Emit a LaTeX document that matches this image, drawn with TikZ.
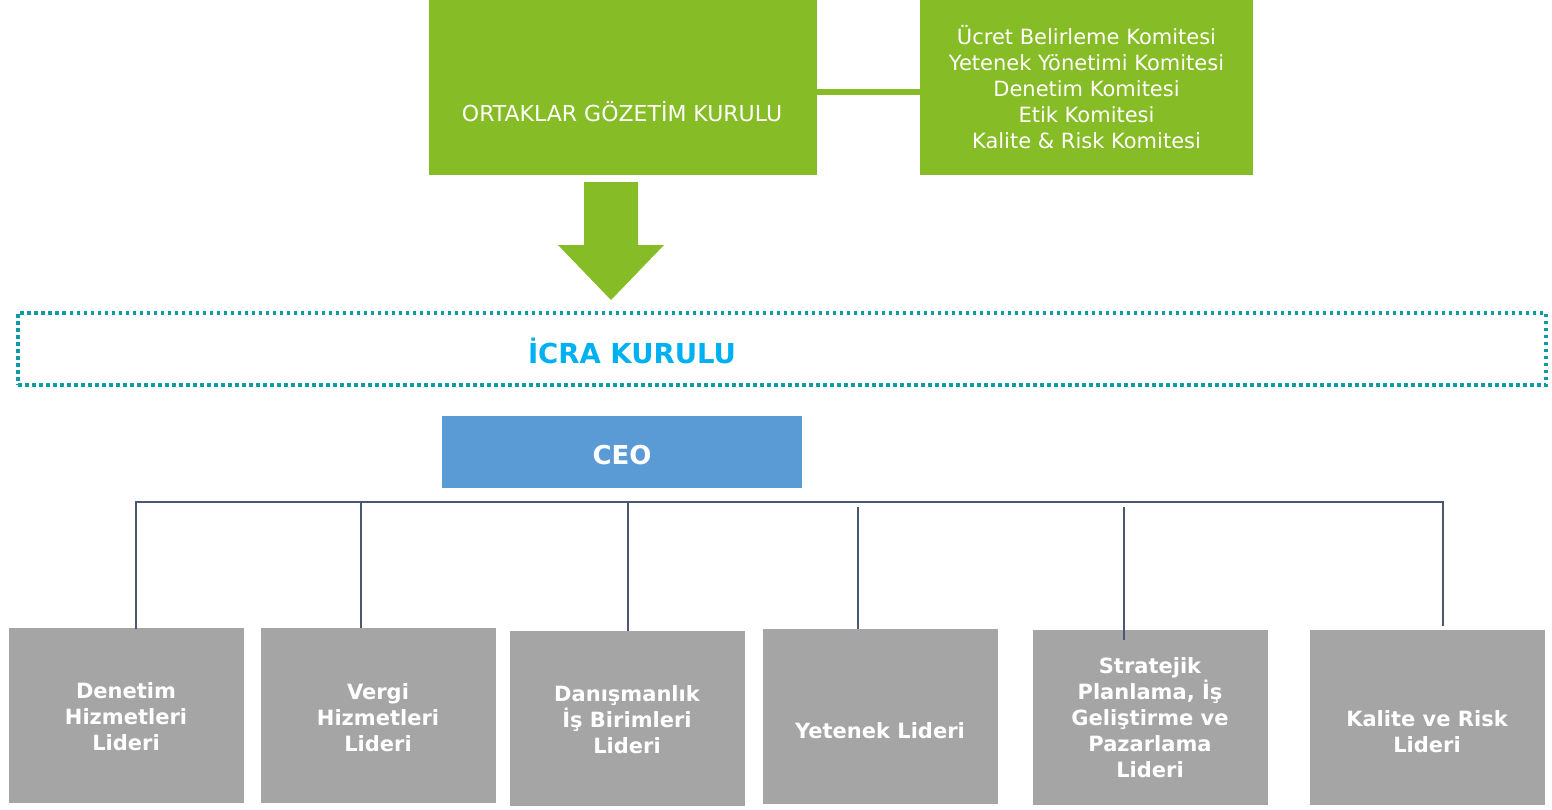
\documentclass[tikz,border=0pt]{standalone}
\usepackage{fontspec}
\setmainfont{DejaVu Sans}
\definecolor{ogreen}{HTML}{86BC25}
\definecolor{lgray}{HTML}{A5A5A5}
\definecolor{ceoblue}{HTML}{5B9BD5}
\definecolor{icrablue}{HTML}{00B0F0}
\definecolor{teal}{HTML}{0E9AA7}
\definecolor{connc}{HTML}{4A5870}
\begin{document}
\begin{tikzpicture}[x=1pt,y=-1pt,
  greenbox/.style={fill=ogreen, inner sep=0pt, outer sep=0pt, text=white, align=center,
    minimum height=175pt, font=\fontsize{21}{26}\selectfont},
  graybox/.style={fill=lgray, minimum width=235pt, minimum height=175pt, inner sep=0pt, outer sep=0pt},
  boldtxt/.style={text=white, align=center, inner sep=0pt, font=\bfseries\fontsize{21}{26}\selectfont},
  conn/.style={draw=connc, line width=1.6pt},
  gline/.style={draw=ogreen, line width=6pt}]
\useasboundingbox (0,0) rectangle (1552,809);

% top green boxes
\node[greenbox, minimum width=388pt] (ogk) at (623,87.5) {};
\node[text=white, inner sep=0pt, font=\fontsize{22}{26}\selectfont] (ogktext) at (622,112) {ORTAKLAR GÖZETİM KURULU};
\node[greenbox, minimum width=333pt] (kom) at (1086.5,87.5)
  {Ücret Belirleme Komitesi\\Yetenek Yönetimi Komitesi\\Denetim Komitesi\\Etik Komitesi\\Kalite \& Risk Komitesi};
\draw[gline] ([yshift=-4.5pt]ogk.east) -- ([yshift=-4.5pt]kom.west);

% big arrow
\fill[ogreen] (584,182) -- (638,182) -- (638,245) -- (664,245) -- (611,300) -- (558,245) -- (584,245) -- cycle;

% icra kurulu
\node[draw=teal, line width=3.5pt, dash pattern=on 3.5pt off 3.5pt, minimum width=1528pt, minimum height=72pt,
  inner sep=0pt, outer sep=0pt] (icra) at (782,349) {};
\node[text=icrablue, inner sep=0pt, font=\bfseries\fontsize{27.5}{32}\selectfont] (icratext) at (632,351) {İCRA KURULU};

% CEO
\node[fill=ceoblue, minimum width=360pt, minimum height=72pt, inner sep=0pt, outer sep=0pt] (ceo) at (622,452) {};
\node[text=white, inner sep=0pt, font=\bfseries\fontsize{26}{30}\selectfont] (ceotext) at (622,455) {CEO};

% gray boxes
\node[graybox] (b1) at (126.5,715.5) {};
\node[graybox] (b2) at (378.5,715.5) {};
\node[graybox] (b3) at (627.5,718.5) {};
\node[graybox] (b4) at (880.5,716.5) {};
\node[graybox] (b5) at (1150.5,717.5) {};
\node[graybox] (b6) at (1427.5,717.5) {};

\node[boldtxt] (t1) at (126,716.5) {Denetim\\Hizmetleri\\Lideri};
\node[boldtxt] (t2) at (378,717.5) {Vergi\\Hizmetleri\\Lideri};
\node[boldtxt] (t3) at (627,720) {Danışmanlık\\İş Birimleri\\Lideri};
\node[boldtxt] (t4) at (880,731) {Yetenek Lideri};
\node[boldtxt] (t5) at (1150,718) {Stratejik\\Planlama, İş\\Geliştirme ve\\Pazarlama\\Lideri};
\node[boldtxt] (t6) at (1427,732) {Kalite ve Risk\\Lideri};

% connectors
\coordinate (j1) at (136,502);
\coordinate (j2) at (361,502);
\coordinate (j3) at (628,502);
\coordinate (j4) at (858,507);
\coordinate (j5) at (1124,507);
\coordinate (j6) at (1443,502);
\draw[conn, line join=miter] ([yshift=-1pt]j1 |- b1.north) -- (j1) -- (j6) -- ([yshift=4pt]j6 |- b6.north);
\draw[conn] (j2) -- (j2 |- b2.north);
\draw[conn] (j3) -- (j3 |- b3.north);
\draw[conn] (j4) -- (j4 |- b4.north);
\draw[conn] (j5) -- ([yshift=-10pt]j5 |- b5.north);
\end{tikzpicture}
\end{document}
